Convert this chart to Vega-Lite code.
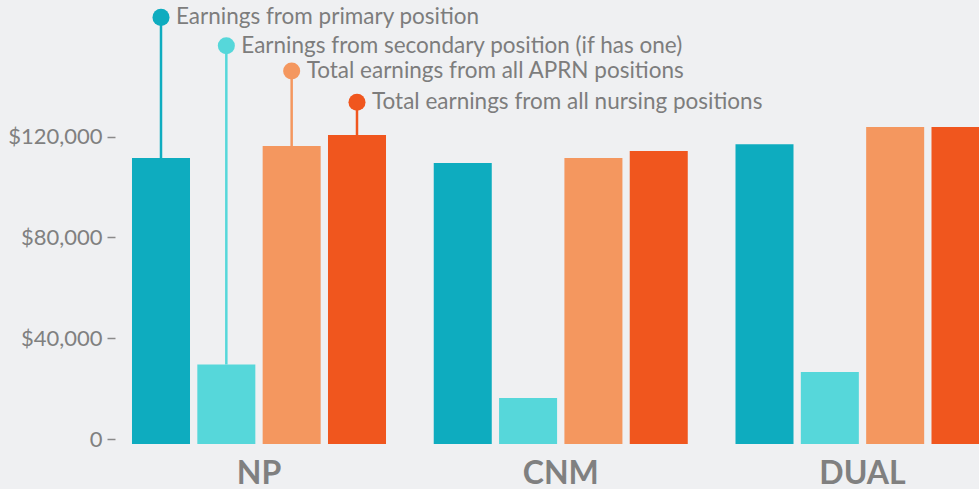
{
  "$schema": "https://vega.github.io/schema/vega-lite/v6.json",
  "autosize": "none",
  "padding": {"left": 115, "top": 0, "right": 0, "bottom": 45},
  "width": 864,
  "height": 444,
  "background": "#eff0f2",
  "config": {
    "view": {"stroke": null},
    "font": "Lato"
  },
  "datasets": {
    "bars": [
      {"group": "NP", "series": "Earnings from primary position", "value": 113500},
      {"group": "NP", "series": "Earnings from secondary position (if has one)", "value": 31500},
      {"group": "NP", "series": "Total earnings from all APRN positions", "value": 118250},
      {"group": "NP", "series": "Total earnings from all nursing positions", "value": 122600},
      {"group": "CNM", "series": "Earnings from primary position", "value": 111500},
      {"group": "CNM", "series": "Earnings from secondary position (if has one)", "value": 18250},
      {"group": "CNM", "series": "Total earnings from all APRN positions", "value": 113500},
      {"group": "CNM", "series": "Total earnings from all nursing positions", "value": 116250},
      {"group": "DUAL", "series": "Earnings from primary position", "value": 119000},
      {"group": "DUAL", "series": "Earnings from secondary position (if has one)", "value": 28550},
      {"group": "DUAL", "series": "Total earnings from all APRN positions", "value": 125800},
      {"group": "DUAL", "series": "Total earnings from all nursing positions", "value": 125800}
    ],
    "notes": [
      {"group": "NP", "series": "Earnings from primary position", "value": 113500, "labelValue": 169300},
      {"group": "NP", "series": "Earnings from secondary position (if has one)", "value": 31500, "labelValue": 158050},
      {"group": "NP", "series": "Total earnings from all APRN positions", "value": 118250, "labelValue": 148000},
      {"group": "NP", "series": "Total earnings from all nursing positions", "value": 122600, "labelValue": 135600}
    ]
  },
  "encoding": {
    "x": {
      "field": "group",
      "type": "nominal",
      "sort": ["NP", "CNM", "DUAL"],
      "scale": {"range": [0, 891.5], "paddingInner": 0.1582, "paddingOuter": 0.0563},
      "axis": {
        "title": null,
        "domain": false,
        "ticks": false,
        "labelAngle": 0,
        "labelFont": "Lato",
        "labelFontSize": 32,
        "labelFontWeight": "bold",
        "labelColor": "#808080",
        "labelPadding": 14
      }
    },
    "xOffset": {
      "field": "series",
      "type": "nominal",
      "sort": [
        "Earnings from primary position",
        "Earnings from secondary position (if has one)",
        "Total earnings from all APRN positions",
        "Total earnings from all nursing positions"
      ],
      "scale": {"paddingInner": 0.112, "paddingOuter": 0}
    },
    "color": {
      "field": "series",
      "type": "nominal",
      "legend": null,
      "scale": {
        "domain": [
          "Earnings from primary position",
          "Earnings from secondary position (if has one)",
          "Total earnings from all APRN positions",
          "Total earnings from all nursing positions"
        ],
        "range": ["#0eacbf", "#56d7da", "#f4975f", "#f0561e"]
      }
    }
  },
  "layer": [
    {
      "data": {"name": "bars"},
      "mark": {"type": "bar", "clip": true},
      "encoding": {
        "y": {
          "field": "value",
          "type": "quantitative",
          "scale": {"domain": [0, 176200], "nice": false},
          "axis": {
            "title": null,
            "grid": false,
            "domain": false,
            "values": [0, 40000, 80000, 120000],
            "labelExpr": "datum.value == 0 ? '0' : '$' + format(datum.value, ',')",
            "tickOffset": -5,
            "tickSize": 8,
            "tickWidth": 1.5,
            "tickColor": "#8a8a8a",
            "labelPadding": 5,
            "labelFont": "Lato",
            "labelFontSize": 22,
            "labelColor": "#808080"
          }
        }
      }
    },
    {
      "data": {"name": "notes"},
      "mark": {"type": "rule", "strokeWidth": 2.5},
      "encoding": {
        "y": {"field": "value", "type": "quantitative"},
        "y2": {"field": "labelValue"},
        "stroke": {"field": "series", "type": "nominal", "legend": null, "scale": {
          "domain": [
            "Earnings from primary position",
            "Earnings from secondary position (if has one)",
            "Total earnings from all APRN positions",
            "Total earnings from all nursing positions"
          ],
          "range": ["#0eacbf", "#56d7da", "#f4975f", "#f0561e"]
        }}
      }
    },
    {
      "data": {"name": "notes"},
      "mark": {"type": "point", "filled": true, "opacity": 1, "size": 290},
      "encoding": {
        "y": {"field": "labelValue", "type": "quantitative"}
      }
    },
    {
      "data": {"name": "notes"},
      "mark": {"type": "text", "align": "left", "baseline": "middle", "dx": 15, "dy": 0, "font": "Lato", "fontSize": 22.5},
      "encoding": {
        "y": {"field": "labelValue", "type": "quantitative"},
        "text": {"field": "series"},
        "color": {"value": "#7d7d7d"}
      }
    }
  ]
}
